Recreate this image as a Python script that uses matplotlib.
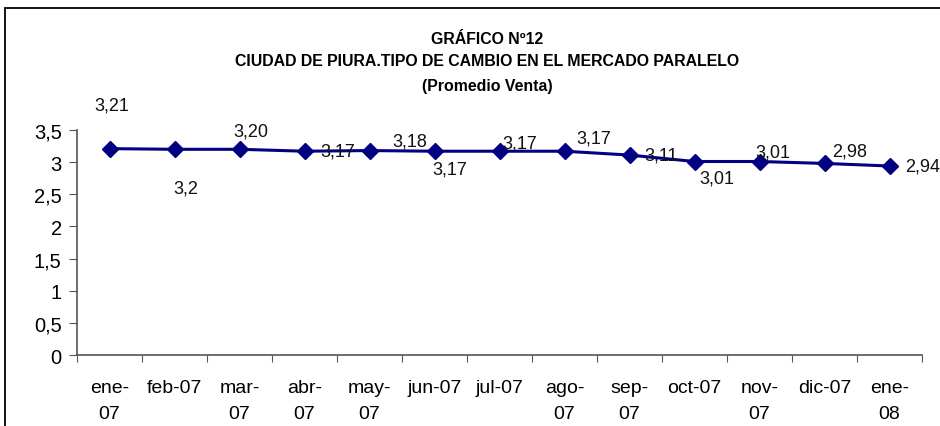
import matplotlib
matplotlib.use("Agg")
import matplotlib.pyplot as plt
from matplotlib.patches import Rectangle

# data
months = ["ene-\n07", "feb-07", "mar-\n07", "abr-\n07", "may-\n07", "jun-07", "jul-07",
          "ago-\n07", "sep-\n07", "oct-07", "nov-\n07", "dic-07", "ene-\n08"]
venta = [3.21, 3.20, 3.20, 3.17, 3.18, 3.17, 3.17, 3.17, 3.11, 3.01, 3.01, 2.98, 2.94]
point_labels = ["3,21", "3,2", "3,20", "3,17", "3,18", "3,17", "3,17",
                "3,17", "3,11", "3,01", "3,01", "2,98", "2,94"]
y_ticks = [0, 0.5, 1, 1.5, 2, 2.5, 3, 3.5]
y_ticklabels = ["0", "0,5", "1", "1,5", "2", "2,5", "3", "3,5"]

# label offsets in pixels (x right, y up) as placed in the original
label_offsets = [(2, 44), (11, -39), (11, 18), (33, 0), (40, 10), (15, -18), (20, 8),
                 (29, 13), (32, 0), (22, -17), (13, 9), (25, 12), (33, 0)]

plt.rcParams["font.family"] = ["Liberation Sans", "DejaVu Sans"]

fig = plt.figure(figsize=(9.4, 4.27), dpi=100)
ax = fig.add_axes([77 / 940, 1 - 356 / 427, 845 / 940, (356 - 131) / 427])

x = list(range(len(months)))
ax.plot(x, venta, color="#000080", lw=2.2, marker="D", ms=8, mec="#000080", mfc="#000080")
for xi, yi, lab, (dx, dy) in zip(x, venta, point_labels, label_offsets):
    ax.annotate(lab, (xi, yi), xytext=(dx, dy), textcoords="offset pixels",
                ha="center", va="center", fontsize=13, color="#111111")

ax.set_xlim(-0.5, len(months) - 0.5)
ax.set_ylim(0, 3.5)
ax.set_yticks(y_ticks)
ax.set_yticklabels(y_ticklabels, fontsize=14.5)
ax.set_xticks([i - 0.5 for i in range(len(months) + 1)])
ax.set_xticklabels([])
ax.set_xticks(x, minor=True)
ax.set_xticklabels(months, minor=True, fontsize=14, linespacing=1.75)
ax.tick_params(axis="x", which="minor", length=0, pad=17)
ax.tick_params(axis="x", which="major", direction="out", length=5, color="#555555")
ax.tick_params(axis="y", direction="out", length=6, pad=5, color="#555555")

for side in ("top", "right"):
    ax.spines[side].set_visible(False)
for side in ("left", "bottom"):
    ax.spines[side].set_color("#555555")
    ax.spines[side].set_linewidth(1.2)

title_font = dict(ha="center", va="center", fontsize=11.4, fontweight="bold")
fig.text(487 / 940, 1 - 40 / 427, "GRÁFICO Nº12", **title_font)
fig.text(487 / 940, 1 - 62 / 427, "CIUDAD DE PIURA.TIPO DE CAMBIO EN EL MERCADO PARALELO", **title_font)
fig.text(487 / 940, 1 - 86 / 427, "(Promedio Venta)", **title_font)

# chart frame, cropped on the right and bottom like the original
fig.patches.append(Rectangle((4.5 / 940, -0.1), 1.2, 1.1 - 9 / 427, transform=fig.transFigure,
                             fill=False, ec="black", lw=1.3, clip_on=False))

fig.savefig("out.png", dpi=100)
